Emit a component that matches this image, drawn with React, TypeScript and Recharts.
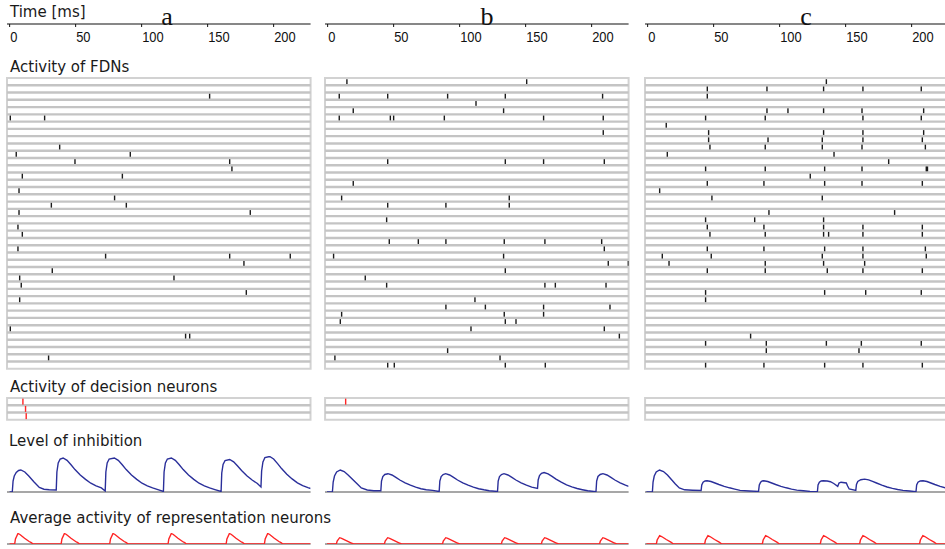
import React from 'react';
import { LineChart, Line, ScatterChart, Scatter, XAxis, YAxis, ReferenceLine, ReferenceArea } from 'recharts';

// ---- data ----
const timeTicks = [0, 50, 100, 150, 200];
const panelLetters = ['a', 'b', 'c'];
const labels = {
  time: 'Time [ms]',
  fdn: 'Activity of FDNs',
  decision: 'Activity of decision neurons',
  inhibition: 'Level of inhibition',
  average: 'Average activity of representation neurons',
};

// FDN spikes: [row, time ms]
const spikesA = [
  [2, 151.5], [5, 0.5], [5, 26.5], [9, 37.9], [10, 5], [10, 91.4], [11, 49.5], [11, 166.7], [12, 168.4],
  [13, 9.6], [13, 85.4], [15, 7.1], [16, 79.5], [17, 31.6], [17, 88.4], [18, 7.1], [18, 182.3], [20, 6.3],
  [21, 9.6], [23, 6.3], [24, 72.7], [24, 166.7], [24, 212.6], [25, 177.5], [26, 32.3], [27, 7.6], [27, 124.5],
  [28, 8.8], [29, 179.3], [30, 7.6], [34, 0.5], [35, 133.3], [35, 136.4], [38, 29.5],
];
const spikesB = [
  [0, 14.6], [0, 150.8], [2, 8.8], [2, 45.5], [2, 90.9], [2, 134.6], [2, 208.3], [3, 112.4], [4, 19.4], [4, 133.3],
  [5, 8.8], [5, 47.5], [5, 50], [5, 88.4], [5, 163.6], [5, 208.8], [7, 208.8], [11, 45.5], [11, 134.6], [11, 163.6],
  [11, 209.6], [14, 19.4], [16, 10.6], [16, 137.6], [17, 45.5], [17, 89.6], [17, 137.6], [19, 44.7], [22, 46.7],
  [22, 68.7], [22, 89.6], [22, 133.8], [22, 164.6], [22, 207.6], [23, 209.6], [24, 4.5], [24, 133.3], [25, 212.6],
  [25, 227.8], [26, 134.6], [27, 28.5], [28, 44.7], [28, 164.6], [28, 172.5], [28, 210.9], [30, 111.6], [31, 89.6],
  [31, 119.5], [31, 163.6], [31, 213.9], [32, 10.6], [32, 133.8], [32, 163.6], [33, 9.6], [33, 134.6], [33, 142.7],
  [34, 108.6], [34, 209.6], [35, 221], [37, 90.9], [38, 5.5], [38, 130.6], [39, 45.5], [39, 50.5], [39, 134.6], [39, 164.9],
];
const spikesC = [
  [0, 135.4],
  [1, 45.2], [1, 90.4], [1, 133.3], [1, 163.1], [1, 207.3],
  [2, 45.2],
  [4, 90.4], [4, 106.3], [4, 133.3], [4, 162.4], [4, 209.1],
  [5, 43.9], [5, 89.1], [5, 163.1], [5, 207.3],
  [6, 14.1],
  [7, 46.2], [7, 133.3], [7, 163.1], [7, 209.1],
  [8, 46.2], [8, 91.2], [8, 132.3], [8, 163.1], [8, 208.1],
  [9, 47.2], [9, 89.1], [9, 132.3], [9, 162.4], [9, 210.4],
  [10, 14.9], [10, 141.2],
  [11, 182.6],
  [12, 43.9], [12, 89.1], [12, 134.1], [12, 162.4], [12, 211.1], [12, 212],
  [13, 123.2],
  [14, 45.2], [14, 88.1], [14, 134.1], [14, 162.4], [14, 208.1],
  [15, 9.1],
  [16, 48.7], [16, 132.3],
  [18, 91.9], [18, 187.1],
  [19, 43.9], [19, 81.1], [19, 133.3],
  [20, 45.2], [20, 88.1], [20, 133.3], [20, 163.1], [20, 208.1],
  [21, 47.2], [21, 89.1], [21, 133.3], [21, 137.1], [21, 163.1], [21, 208.1],
  [23, 45.2], [23, 88.1], [23, 134.1], [23, 163.1], [23, 210.4],
  [24, 11.1], [24, 48.2], [24, 132.3], [24, 163.1], [24, 211.1],
  [25, 16.2], [25, 89.1], [25, 133.3], [25, 164.4],
  [26, 45.2], [26, 89.1], [26, 136.1], [26, 163.1], [26, 208.1],
  [29, 43.9], [29, 134.1], [29, 165.2], [29, 207.3],
  [30, 43.9],
  [35, 78],
  [36, 43.9], [36, 89.9], [36, 135.4], [36, 161.9], [36, 207.3],
  [37, 89.9], [37, 160.1],
  [39, 43.9], [39, 88.1], [39, 134.1], [39, 163.1], [39, 208.1],
];

// decision neuron spikes: [row, time ms]
const decisionA = [[0, 10], [1, 12], [2, 12.5]];
const decisionB = [[0, 13.6]];
const decisionC: number[][] = [];

// level of inhibition: [time ms, level]
const inhibA = [
  [0, 0], [2, 0], [2.6, 11], [3.5, 16], [5, 19.5], [6.8, 21.5], [8.5, 22], [11.5, 20], [14.5, 16], [18.5, 10], [22.5, 4.5],
  [26, 2.8], [30, 2.2], [35.3, 2],
  [35.8, 20], [36.8, 29], [38.3, 33], [40.5, 34], [43.5, 31.6], [46.5, 27.2], [49.5, 22.4], [53.5, 17], [57.5, 12.6],
  [61.5, 8.8], [65.5, 6.1], [69.5, 4.1], [72.4, 1],
  [72.9, 20], [73.9, 29], [75.4, 33], [79.3, 34], [82.3, 31.6], [85.3, 27.2], [88.3, 22.4], [92.3, 17], [96.3, 12.6],
  [100.3, 8.8], [104.3, 6.1], [108.3, 4.1], [112.3, 2.4], [116.5, 0.5],
  [117, 20], [118, 29], [119.5, 33], [122.5, 34], [125.5, 31.6], [128.5, 27.2], [131.5, 22.4], [135.5, 17], [139.5, 12.6],
  [143.5, 8.8], [147.5, 6.1], [151.5, 4.1], [155.5, 2.4], [160.2, 0.5],
  [160.7, 19], [161.7, 27.5], [163.2, 31.5], [166.7, 32.5], [169.7, 30.2], [172.7, 26], [175.7, 21.5], [179.7, 16.3],
  [183.7, 12], [187.7, 8.5], [190.4, 5],
  [190.9, 21], [191.9, 30], [193.4, 34.5], [197, 35.5], [200, 33], [203, 28.4], [206, 23.4], [210, 17.8], [214, 13.1],
  [218, 9.2], [222, 6.4], [226, 4.3], [228, 3.5],
];
const inhibB = [
  [-0.5, 0], [3.6, 0], [4.2, 10], [5.2, 16], [6.8, 20], [9.6, 22], [12.5, 20.5], [15.5, 17], [19, 12.5], [22.5, 8],
  [25.5, 4], [30, 2], [35, 1.3], [40.3, 1.3],
  [40.8, 11], [41.8, 15.5], [43.3, 17.5], [45.7, 18.3], [48.7, 17], [51.7, 14.6], [54.7, 12], [58.7, 9.2], [62.7, 6.8],
  [66.7, 4.8], [70.7, 3.3], [74.7, 2.2], [79.5, 1.6], [84.5, 0.5],
  [85, 11], [86, 15.5], [87.5, 17.5], [89.4, 18.3], [92.4, 17], [95.4, 14.6], [98.4, 12], [102.4, 9.2], [106.4, 6.8],
  [110.4, 4.8], [114.4, 3.3], [118.4, 2.2], [122.4, 1.3], [128.7, 0.5],
  [129.2, 11], [130.2, 15.5], [131.7, 17.5], [133.6, 18.3], [136.6, 17], [139.6, 14.6], [142.6, 12], [146.6, 9.2],
  [150.6, 6.8], [154.6, 4.8], [159, 3.5],
  [159.5, 12], [160.5, 16.5], [162, 18.7], [164, 19.5], [167, 18.1], [170, 15.6], [173, 12.9], [177, 9.8], [181, 7.2],
  [185, 5.1], [189, 3.5], [193, 2.3], [197, 1.2], [203.3, 0.3],
  [203.8, 11], [204.8, 15.5], [206.5, 17.5], [208.6, 18.3], [211.6, 17], [214.6, 14.6], [217.6, 12], [221.6, 9.2],
  [225.6, 6.8], [228, 5.6],
];
const inhibC = [
  [-1, 0], [3.6, 0], [4.1, 10], [5, 16], [6.5, 20], [9, 22], [12, 20.5], [15, 17], [18, 12.5], [21, 8], [24, 4],
  [28, 2.2], [34, 1.8], [40.5, 1.5],
  [41, 7], [42, 9.8], [43.5, 11], [45, 11.3], [48, 10.5], [51, 9], [54, 7.5], [58, 5.7], [62, 4.2], [66, 2.9], [70, 1.6],
  [77, 1], [84, 0.6],
  [84.6, 7], [85.6, 9.8], [86.8, 11], [88, 11.3], [91, 10.5], [94, 9], [97, 7.5], [101, 5.7], [105, 4.2], [109, 2.9],
  [113, 1.9], [118, 1.2], [123, 0.6], [128.6, 0.3],
  [129.1, 7], [130.1, 9.8], [131.5, 11], [133, 11.3], [136, 11], [138.5, 10.3], [141, 8.5], [144, 5.7], [145, 9],
  [146.5, 9.8], [150.5, 9], [151.5, 6], [152.7, 3], [157.7, 1.6],
  [158.2, 7.5], [159.2, 10.5], [161.5, 12.3], [164.4, 12.9], [167.4, 12.1], [170.4, 10.6], [173.4, 9], [177.4, 6.9],
  [181.4, 5], [185.4, 3.6], [189.4, 2.5], [193.4, 1.6], [198.5, 1], [203.3, 0.3],
  [203.8, 7], [204.8, 9.8], [206.5, 11], [208.6, 11.3], [211.6, 10.5], [214.6, 9], [217.6, 7.5], [221.6, 5.7],
  [225.6, 4.2], [228, 3.5],
];

// average activity of representation neurons: [time ms, level]
const avgA = [
  [0, 0], [3.8, 0], [4.4, 5], [6.3, 10.5], [7.8, 9.5], [11.3, 5.7], [14.8, 2.5], [16.4, 1.3], [17.8, 0],
  [39, 0], [39.6, 5], [41.5, 10.5], [43, 9.5], [46.5, 5.7], [50, 2.5], [51.6, 1.3], [53, 0],
  [75.8, 0], [76.4, 5], [78.3, 10.5], [79.8, 9.5], [83.3, 5.7], [86.8, 2.5], [88.4, 1.3], [89.8, 0],
  [120, 0], [120.6, 5], [122.5, 10.5], [124, 9.5], [127.5, 5.7], [131, 2.5], [132.6, 1.3], [134, 0],
  [164, 0], [164.6, 5], [166.5, 10.5], [168, 9.5], [171.5, 5.7], [175, 2.5], [176.6, 1.3], [178, 0],
  [193, 0], [193.6, 5], [195.5, 10.5], [197, 9.5], [200.5, 5.7], [204, 2.5], [205.6, 1.3], [207, 0], [228, 0],
];
const avgB = [
  [-0.5, 0], [6.6, 0], [7.2, 3], [9.1, 6.3], [10.6, 5.7], [14.1, 3.4], [17.6, 1.2], [19.6, 0],
  [43, 0], [43.6, 3], [45.5, 6.3], [47, 5.7], [50.5, 3.4], [54, 1.2], [56, 0],
  [87, 0], [87.6, 3], [89.5, 6.3], [91, 5.7], [94.5, 3.4], [98, 1.2], [100, 0],
  [131.6, 0], [132.2, 3], [134.1, 6.3], [135.6, 5.7], [139.1, 3.4], [142.6, 1.2], [144.6, 0],
  [161.9, 0], [162.5, 3], [164.4, 6.3], [165.9, 5.7], [169.4, 3.4], [172.9, 1.2], [174.9, 0],
  [206, 0], [206.6, 3], [208.5, 6.3], [210, 5.7], [213.5, 3.4], [217, 1.2], [219, 0], [228, 0],
];
const avgC = [
  [-1, 0], [6.6, 0], [7.2, 4], [9.1, 8.3], [10.6, 7.5], [14.1, 4.5], [17.6, 1.8], [19.6, 0],
  [43.2, 0], [43.8, 4], [45.7, 8.3], [47.2, 7.5], [50.7, 4.5], [54.2, 1.8], [56.2, 0],
  [86.9, 0], [87.5, 4], [89.4, 8.3], [90.9, 7.5], [94.4, 4.5], [97.9, 1.8], [99.9, 0],
  [130.8, 0], [131.4, 4], [133.3, 8.3], [134.8, 7.5], [138.3, 4.5], [141.8, 1.8], [143.8, 0],
  [160.6, 0], [161.2, 4], [163.1, 8.3], [164.6, 7.5], [168.1, 4.5], [171.6, 1.8], [173.6, 0],
  [206, 0], [206.6, 4], [208.5, 8.3], [210, 7.5], [213.5, 4.5], [217, 1.8], [219, 0], [228, 0],
];

// ---- layout ----
const T_MIN = -2;
const T_MAX = 228;
const PX_PER_MS = 1.32;
const PLOT_W = (T_MAX - T_MIN) * PX_PER_MS;
const ROW_H = 7.27;
const FDN_ROWS = 40;
const DECISION_ROWS = 3;
const M = 2;

const LABEL_FONT = "'DejaVu Sans', Verdana, sans-serif";
const TICK_FONT = "'Liberation Sans', Arial, sans-serif";
const BLUE = '#2a2f9a';
const RED = '#ff2424';

const panels = [
  { zero: 10, letterX: 167, spikes: spikesA, decision: decisionA, inhib: inhibA, avg: avgA },
  { zero: 328, letterX: 487, spikes: spikesB, decision: decisionB, inhib: inhibB, avg: avgB },
  { zero: 648, letterX: 806, spikes: spikesC, decision: decisionC, inhib: inhibC, avg: avgC },
];

const tickData = timeTicks.map(t => ({ t }));

// tick labels sit to the right of their tick, in a narrow face
function TimeTick(props: any) {
  const { x, y, payload } = props;
  return (
    <text
      transform={`translate(${x + 0.5},${y + 13}) scale(0.86,1)`}
      textAnchor="start"
      fontFamily={TICK_FONT}
      fontSize={15}
      fill="#111"
    >
      {payload.value}
    </text>
  );
}

function TimeAxis({ left }: { left: number }) {
  return (
    <div style={{ position: 'absolute', left, top: 20 }}>
      <LineChart width={PLOT_W} height={30} data={tickData} margin={{ top: 0, right: 0, bottom: 0, left: 0 }}>
        <XAxis
          type="number"
          dataKey="t"
          domain={[T_MIN, T_MAX]}
          allowDataOverflow
          ticks={timeTicks}
          interval={0}
          height={26}
          tickSize={3}
          axisLine={{ stroke: '#111', strokeWidth: 1.2 }}
          tickLine={{ stroke: '#111' }}
          tick={<TimeTick />}
        />
        <YAxis hide domain={[0, 1]} />
      </LineChart>
    </div>
  );
}

function Raster({ left, top, rows, spikes, color, spikeH }: any) {
  const h = rows * ROW_H;
  const data = spikes.map(([row, t]: number[]) => ({ t, y: row + 0.5 }));
  const bounds = Array.from({ length: rows - 1 }, (_, i) => i + 1);
  return (
    <div style={{ position: 'absolute', left: left - M, top: top - M }}>
      <ScatterChart width={PLOT_W + 2 * M} height={h + 2 * M} margin={{ top: M, right: M, bottom: M, left: M }}>
        <XAxis type="number" dataKey="t" domain={[T_MIN, T_MAX]} allowDataOverflow hide />
        <YAxis type="number" dataKey="y" domain={[0, rows]} allowDataOverflow reversed hide />
        <ReferenceArea x1={T_MIN} x2={T_MAX} y1={0} y2={rows} fill="#ffffff" fillOpacity={1} stroke="#d2d2d2" strokeWidth={2} />
        {bounds.map(b => (
          <ReferenceLine key={b} y={b} stroke="#c4c4c4" strokeWidth={2.4} />
        ))}
        <Scatter
          data={data}
          isAnimationActive={false}
          shape={(p: any) => (
            <rect x={p.cx - 0.7} y={p.cy - spikeH / 2} width={1.4} height={spikeH} fill={color} />
          )}
        />
      </ScatterChart>
    </div>
  );
}

function Baseline({ left, y }: { left: number; y: number }) {
  return (
    <div style={{ position: 'absolute', left, top: y - 5 }}>
      <LineChart width={PLOT_W} height={8} data={tickData} margin={{ top: 0, right: 0, bottom: 0, left: 0 }}>
        <XAxis
          type="number"
          dataKey="t"
          domain={[T_MIN, T_MAX]}
          allowDataOverflow
          height={3}
          tick={false}
          tickLine={false}
          axisLine={{ stroke: '#8a8a8a', strokeWidth: 1.4 }}
        />
        <YAxis hide domain={[0, 1]} />
      </LineChart>
    </div>
  );
}

function Trace({ left, top, height, yMax, points, color }: any) {
  const data = points.map(([t, v]: number[]) => ({ t, v }));
  return (
    <div style={{ position: 'absolute', left: left - M, top: top - M }}>
      <LineChart width={PLOT_W + 2 * M} height={height + 2 * M} data={data} margin={{ top: M, right: M, bottom: M, left: M }}>
        <XAxis type="number" dataKey="t" domain={[T_MIN, T_MAX]} allowDataOverflow hide />
        <YAxis type="number" domain={[0, yMax]} allowDataOverflow hide />
        <Line dataKey="v" type="linear" stroke={color} strokeWidth={1.4} dot={false} isAnimationActive={false} />
      </LineChart>
    </div>
  );
}

export default function App() {
  return (
    <div style={{ position: 'absolute', left: 0, top: 0, width: 945, height: 549, overflow: 'hidden', background: '#fff' }}>
      {panels.map((p, i) => {
        const left = p.zero + T_MIN * PX_PER_MS;
        return (
          <React.Fragment key={i}>
            <TimeAxis left={left} />
            <Raster left={left} top={77.5} rows={FDN_ROWS} spikes={p.spikes} color="#1a1a1a" spikeH={4.8} />
            <Raster left={left} top={398.3} rows={DECISION_ROWS} spikes={p.decision} color={RED} spikeH={6} />
            <Baseline left={left} y={492.3} />
            <Trace left={left} top={492.3 - 36} height={36} yMax={36} points={p.inhib} color={BLUE} />
            <Baseline left={left} y={544} />
            <Trace left={left} top={544 - 11} height={11} yMax={11} points={p.avg} color={RED} />
          </React.Fragment>
        );
      })}
      <svg width={945} height={549} style={{ position: 'absolute', left: 0, top: 0, pointerEvents: 'none' }}>
        <g fontFamily={LABEL_FONT} fontSize={15} fill="#1a1a1a">
          <text x={10} y={16.7}>{labels.time}</text>
          <text x={10} y={72}>{labels.fdn}</text>
          <text x={10} y={391.7}>{labels.decision}</text>
          <text x={9} y={446}>{labels.inhibition}</text>
          <text x={10} y={522.7}>{labels.average}</text>
        </g>
        {panels.map((p, i) => (
          <text key={i} x={p.letterX} y={24.5} textAnchor="middle" fontFamily="'Liberation Serif', 'Times New Roman', serif" fontSize={26} fill="#111">
            {panelLetters[i]}
          </text>
        ))}
      </svg>
    </div>
  );
}
